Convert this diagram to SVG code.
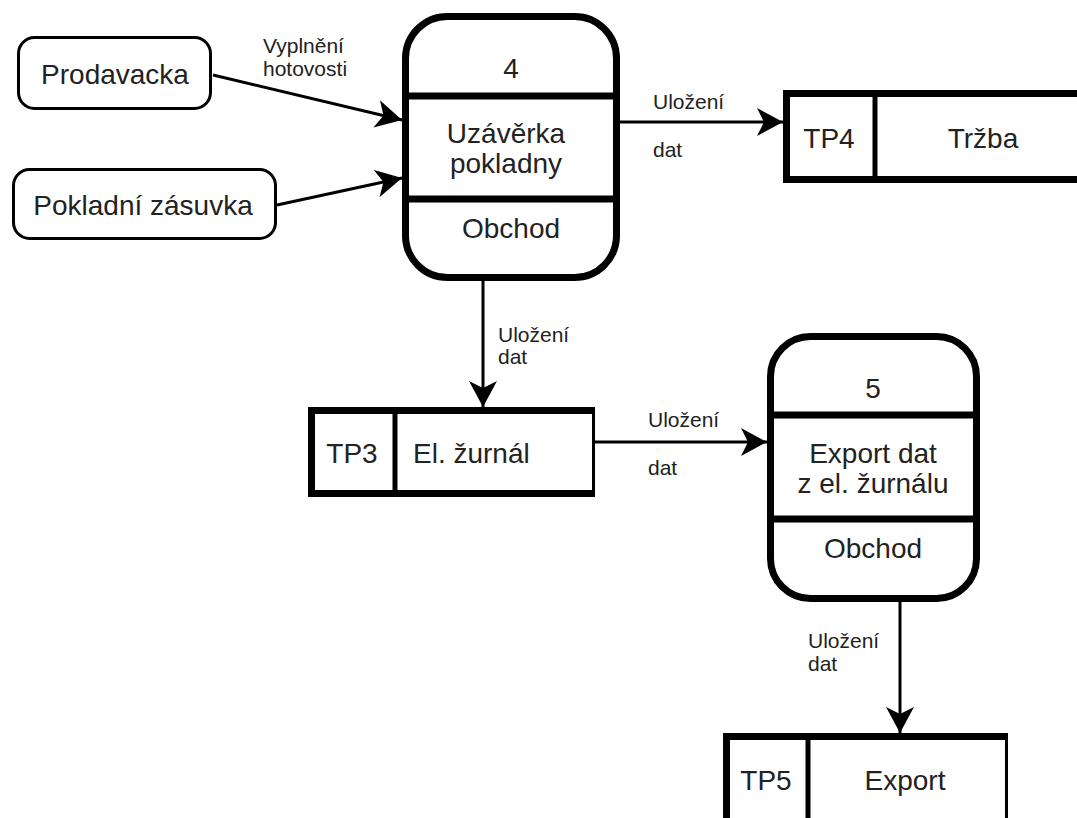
<svg xmlns="http://www.w3.org/2000/svg" width="1077" height="818" viewBox="0 0 1077 818">
<style>
text{font-family:"Liberation Sans",Arial,sans-serif;fill:#222}
.big{font-size:28px}
.lbl{font-size:21px}
.mid{text-anchor:middle}
.ent{fill:#fff;stroke:#000;stroke-width:3}
.proc{fill:#fff;stroke:#000;stroke-width:7}
.div{stroke:#000;stroke-width:7}
.sdiv{stroke:#000;stroke-width:5}
.store{fill:none;stroke:#000;stroke-width:7}
.thin{stroke:#000;stroke-width:3}
.conn{fill:none;stroke:#000;stroke-width:3;marker-end:url(#arr)}
</style>
<defs>
<marker id="arr" markerUnits="userSpaceOnUse" markerWidth="26" markerHeight="28" refX="26" refY="14" orient="auto">
<path d="M0,0 L26,14 L0,28 L7,14 z" fill="#000"/>
</marker>
</defs>
<rect width="1077" height="818" fill="#fff"/>
<g id="connectors">
<line class="conn" x1="213" y1="75" x2="402" y2="120"/>
<line class="conn" x1="277" y1="205" x2="402" y2="178"/>
<line class="conn" x1="620" y1="122" x2="783" y2="122"/>
<line class="conn" x1="483" y1="281" x2="483" y2="407"/>
<line class="conn" x1="595" y1="442" x2="767" y2="442"/>
<line class="conn" x1="900" y1="602" x2="900" y2="733"/>
<text class="lbl" x="263" y="53">Vyplnění</text>
<text class="lbl" x="263" y="76">hotovosti</text>
<text class="lbl" x="653" y="109">Uložení</text>
<text class="lbl" x="653" y="157">dat</text>
<text class="lbl" x="498" y="342">Uložení</text>
<text class="lbl" x="498" y="364">dat</text>
<text class="lbl" x="648" y="427">Uložení</text>
<text class="lbl" x="648" y="475">dat</text>
<text class="lbl" x="808" y="648">Uložení</text>
<text class="lbl" x="808" y="671">dat</text>
</g>
<g id="prodavacka">
<rect class="ent" x="18.5" y="37.5" width="192" height="71" rx="16"/>
<text class="big mid" x="115" y="84">Prodavacka</text>
</g>
<g id="pokladni-zasuvka">
<rect class="ent" x="13.5" y="169.5" width="262" height="69" rx="16"/>
<text class="big mid" x="143" y="215">Pokladní zásuvka</text>
</g>
<g id="process4">
<rect class="proc" x="405.5" y="16.5" width="211" height="261" rx="42"/>
<line class="div" x1="405" y1="96" x2="617" y2="96"/>
<line class="div" x1="405" y1="199" x2="617" y2="199"/>
<text class="big mid" x="511" y="78">4</text>
<text class="big mid" x="506" y="143">Uzávěrka</text>
<text class="big mid" x="506" y="173">pokladny</text>
<text class="big mid" x="511" y="238">Obchod</text>
</g>
<g id="tp4">
<path class="store" d="M1090,93.5 H786.5 V179.5 H1090"/>
<line class="sdiv" x1="875" y1="93" x2="875" y2="180"/>
<text class="big mid" x="829" y="148">TP4</text>
<text class="big mid" x="983" y="148">Tržba</text>
</g>
<g id="tp3">
<path class="store" d="M593,410.5 H311.5 V493.5 H593"/>
<line class="thin" x1="593.5" y1="407" x2="593.5" y2="497"/>
<line class="sdiv" x1="395" y1="410" x2="395" y2="494"/>
<text class="big mid" x="352" y="463">TP3</text>
<text class="big" x="413" y="463">El. žurnál</text>
</g>
<g id="process5">
<rect class="proc" x="770.5" y="336.5" width="206" height="262" rx="40"/>
<line class="div" x1="770" y1="415" x2="977" y2="415"/>
<line class="div" x1="770" y1="519" x2="977" y2="519"/>
<text class="big mid" x="873" y="398">5</text>
<text class="big mid" x="873" y="463">Export dat</text>
<text class="big mid" x="873" y="493">z el. žurnálu</text>
<text class="big mid" x="873" y="558">Obchod</text>
</g>
<g id="tp5">
<path class="store" d="M1006,736.5 H726.5 V830"/>
<line class="thin" x1="1006.5" y1="733" x2="1006.5" y2="818"/>
<line class="sdiv" x1="808" y1="736" x2="808" y2="818"/>
<text class="big mid" x="766" y="790">TP5</text>
<text class="big mid" x="905" y="790">Export</text>
</g>
</svg>
